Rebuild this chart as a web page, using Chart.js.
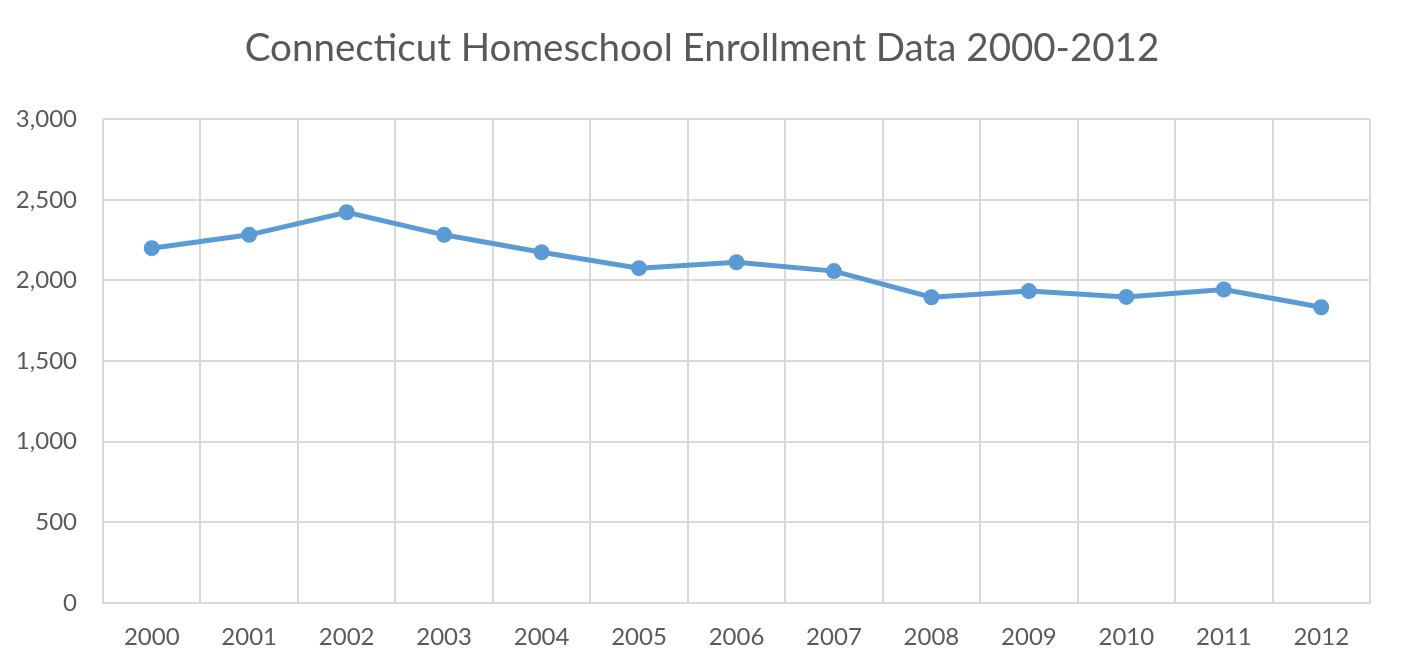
<!DOCTYPE html>
<html>
<head>
<meta charset="utf-8">
<script src="https://cdn.jsdelivr.net/npm/chart.js@4.4.0/dist/chart.umd.min.js"></script>
<style>
html,body{margin:0;padding:0;background:#fff;}
#wrap{width:1404px;height:664px;}
</style>
</head>
<body>
<div id="wrap"><canvas id="c" width="1404" height="664"></canvas></div>
<script>
const categories = ['2000','2001','2002','2003','2004','2005','2006','2007','2008','2009','2010','2011','2012'];
const enrollment = [2200, 2283, 2423, 2283, 2175, 2076, 2113, 2058, 1896, 1934, 1898, 1944, 1834];
const chartTitle = 'Connecticut Homeschool Enrollment Data 2000-2012';
const yMin = 0, yMax = 3000, yStep = 500;

const textColor = '#595959';
const gridColor = '#d9d9d9';
const fontFamily = 'Lato, "Open Sans", sans-serif';

new Chart(document.getElementById('c'), {
  type: 'line',
  data: {
    labels: categories,
    datasets: [{
      data: enrollment,
      yAxisID: 'y',
      borderColor: '#5b9bd5',
      backgroundColor: '#5b9bd5',
      borderWidth: 5,
      pointRadius: 5.5,
      pointHoverRadius: 5.5,
      pointBackgroundColor: '#5b9bd5',
      pointBorderColor: '#5b9bd5',
      tension: 0,
      fill: false
    }]
  },
  options: {
    responsive: false,
    animation: false,
    devicePixelRatio: 1,
    layout: { padding: { left: 0, right: 0, top: 0, bottom: 0 } },
    plugins: {
      legend: { display: false },
      tooltip: { enabled: false },
      title: {
        display: true,
        text: chartTitle,
        color: textColor,
        font: { family: fontFamily, size: 38.5, weight: 'normal' },
        padding: { top: 25, bottom: 48 }
      }
    },
    scales: {
      x: {
        offset: true,
        grid: { offset: true, color: gridColor, lineWidth: 2, drawTicks: false },
        border: { color: gridColor, width: 2 },
        ticks: { color: textColor, font: { family: fontFamily, size: 24 }, padding: 20, maxRotation: 0 },
        afterFit: (s) => { s.height = 61; }
      },
      y: {
        min: yMin, max: yMax,
        grid: { color: gridColor, lineWidth: 2, drawTicks: false },
        border: { display: false },
        ticks: {
          stepSize: yStep, color: textColor, padding: 26,
          font: { family: fontFamily, size: 24 },
          callback: (v) => v.toLocaleString('en-US')
        },
        afterFit: (s) => { s.width = 103; }
      },
      spacer: {
        position: 'right',
        min: 0, max: 1,
        grid: { display: false, drawTicks: false },
        border: { display: false },
        ticks: { display: false },
        afterFit: (s) => { s.width = 34; }
      }
    }
  }
});
</script>
</body>
</html>
